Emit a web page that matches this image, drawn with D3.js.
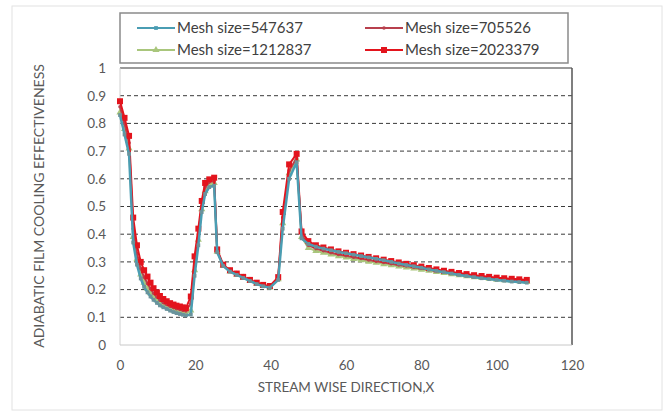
<!DOCTYPE html>
<html>
<head>
<meta charset="utf-8">
<script src="https://cdn.jsdelivr.net/npm/d3@7"></script>
<style>
  body { margin: 0; background: #fff; }
  svg { font-family: Lato, "Open Sans", sans-serif; }
</style>
</head>
<body>
<svg id="chart" width="669" height="418"></svg>
<script>
// stream wise positions shared by all meshes
var xs = [0, 1.2, 2.4, 3.5, 4.5, 5.5, 6.4, 7.3, 8.1, 8.9,
          9.8, 10.6, 11.5, 12.4, 13.3, 14.2, 15.0, 15.9, 16.7, 17.5,
          18.8, 19.8, 20.8, 21.7, 22.6, 23.7, 25.0, 25.8, 27.4, 29.2,
          31.0, 32.7, 34.5, 36.3, 38.0, 39.8, 42.0, 43.2, 44.9, 46.9,
          48.2, 50, 52, 54, 56, 58, 60, 62, 64, 66,
          68, 70, 72, 74, 76, 78, 80, 82, 84, 86,
          88, 90, 92, 94, 96, 98, 100, 102, 104, 106, 108];

var mesh547637 = [0.83, 0.76, 0.69, 0.37, 0.29, 0.24, 0.21, 0.19, 0.175, 0.163,
                  0.152, 0.143, 0.136, 0.13, 0.124, 0.119, 0.115, 0.112, 0.109, 0.107,
                  0.11, 0.25, 0.36, 0.48, 0.545, 0.57, 0.575, 0.335, 0.285, 0.265,
                  0.253, 0.242, 0.231, 0.22, 0.212, 0.207, 0.235, 0.42, 0.6, 0.66,
                  0.385, 0.365, 0.355, 0.348, 0.342, 0.336, 0.331, 0.326, 0.321, 0.316,
                  0.311, 0.306, 0.3, 0.294, 0.289, 0.284, 0.279, 0.273, 0.268, 0.263,
                  0.258, 0.253, 0.249, 0.245, 0.241, 0.238, 0.235, 0.232, 0.229, 0.227, 0.225];

var mesh705526 = [0.86, 0.8, 0.73, 0.42, 0.33, 0.275, 0.245, 0.222, 0.203, 0.187,
                  0.173, 0.162, 0.153, 0.146, 0.14, 0.135, 0.131, 0.128, 0.125, 0.123,
                  0.15, 0.3, 0.4, 0.5, 0.57, 0.588, 0.592, 0.34, 0.287, 0.267,
                  0.255, 0.244, 0.233, 0.222, 0.214, 0.21, 0.24, 0.46, 0.63, 0.675,
                  0.4, 0.36, 0.348, 0.34, 0.333, 0.327, 0.322, 0.317, 0.312, 0.307,
                  0.302, 0.298, 0.293, 0.289, 0.285, 0.281, 0.277, 0.272, 0.268, 0.264,
                  0.26, 0.256, 0.252, 0.249, 0.246, 0.243, 0.24, 0.238, 0.236, 0.234, 0.232];

var mesh1212837 = [0.84, 0.78, 0.71, 0.39, 0.31, 0.255, 0.225, 0.203, 0.187, 0.174,
                   0.162, 0.152, 0.144, 0.137, 0.131, 0.126, 0.122, 0.118, 0.115, 0.113,
                   0.125, 0.27, 0.38, 0.49, 0.555, 0.58, 0.585, 0.337, 0.286, 0.266,
                   0.254, 0.243, 0.232, 0.221, 0.213, 0.208, 0.238, 0.44, 0.62, 0.67,
                   0.39, 0.35, 0.34, 0.333, 0.327, 0.321, 0.316, 0.311, 0.306, 0.301,
                   0.297, 0.292, 0.288, 0.284, 0.28, 0.276, 0.272, 0.268, 0.264, 0.26,
                   0.256, 0.252, 0.248, 0.245, 0.242, 0.239, 0.236, 0.234, 0.232, 0.23, 0.228];

var mesh2023379 = [0.88, 0.82, 0.755, 0.46, 0.36, 0.3, 0.27, 0.247, 0.225, 0.205,
                   0.19, 0.177, 0.166, 0.158, 0.151, 0.146, 0.142, 0.139, 0.136, 0.133,
                   0.175, 0.32, 0.42, 0.52, 0.585, 0.598, 0.604, 0.345, 0.29, 0.27,
                   0.258, 0.246, 0.235, 0.225, 0.217, 0.213, 0.245, 0.48, 0.652, 0.69,
                   0.41, 0.375, 0.36, 0.352, 0.345, 0.338, 0.333, 0.328, 0.323, 0.318,
                   0.313, 0.308, 0.303, 0.298, 0.293, 0.288, 0.283, 0.278, 0.273, 0.268,
                   0.264, 0.26, 0.256, 0.252, 0.249, 0.246, 0.243, 0.241, 0.239, 0.237, 0.235];

var yTicks = [0, 0.1, 0.2, 0.3, 0.4, 0.5, 0.6, 0.7, 0.8, 0.9, 1];
var xTicks = [0, 20, 40, 60, 80, 100, 120];

var series = [
  { name: 'Mesh size=1212837', values: mesh1212837, color: '#a9c67c', marker: 'triangle', size: 22, width: 2 },
  { name: 'Mesh size=705526',  values: mesh705526,  color: '#b8404d', marker: 'circle',   size: 10, width: 2 },
  { name: 'Mesh size=2023379', values: mesh2023379, color: '#e3141d', marker: 'square',   size: 36, width: 2 },
  { name: 'Mesh size=547637',  values: mesh547637,  color: '#4a9db3', marker: 'square',   size: 14, width: 2.5 }
];
var markerTypes = { triangle: d3.symbolTriangle, circle: d3.symbolCircle, square: d3.symbolSquare };

var svg = d3.select('#chart');

// outer chart frame
svg.append('rect')
   .attr('x', 12).attr('y', 6).attr('width', 650).attr('height', 404)
   .attr('fill', '#fff').attr('stroke', '#e2e2e2');

var x = d3.scaleLinear().domain([0, 120]).range([120, 572]);
var y = d3.scaleLinear().domain([0, 1]).range([345, 68]);

// dashed grid
svg.append('g')
   .selectAll('line')
   .data(yTicks.filter(function(d) { return d > 0 && d < 1; }))
   .join('line')
     .attr('x1', x(0)).attr('x2', x(120))
     .attr('y1', function(d) { return y(d); })
     .attr('y2', function(d) { return y(d); })
     .attr('stroke', '#3a3a3a')
     .attr('stroke-width', 1)
     .attr('stroke-dasharray', '4,3');

// plot frame
svg.append('line').attr('x1', x(0)).attr('x2', x(120)).attr('y1', y(1)).attr('y2', y(1))
   .attr('stroke', '#9a9a9a').attr('stroke-width', 2);
svg.append('line').attr('x1', x(120)).attr('x2', x(120)).attr('y1', y(1)).attr('y2', y(0))
   .attr('stroke', '#555').attr('stroke-width', 1.5);
svg.append('line').attr('x1', x(0)).attr('x2', x(0)).attr('y1', y(1)).attr('y2', y(0))
   .attr('stroke', '#d0d0d0');
svg.append('line').attr('x1', x(0)).attr('x2', x(120)).attr('y1', y(0)).attr('y2', y(0))
   .attr('stroke', '#c8c8c8');

// axes
var yAxis = d3.axisLeft(y).tickValues(yTicks).tickSize(0).tickPadding(14)
              .tickFormat(function(d) { return d3.format('')(d); });
svg.append('g').attr('transform', 'translate(' + x(0) + ',0)')
   .call(yAxis)
   .call(function(g) { g.select('.domain').remove(); })
   .selectAll('text').attr('font-size', 13.5).attr('fill', '#595959')
   .attr('font-family', 'Lato, sans-serif');

var xAxis = d3.axisBottom(x).tickValues(xTicks).tickSize(0).tickPadding(15);
svg.append('g').attr('transform', 'translate(0,' + y(0) + ')')
   .call(xAxis)
   .call(function(g) { g.select('.domain').remove(); })
   .selectAll('text').attr('font-size', 13.5).attr('fill', '#595959')
   .attr('font-family', 'Lato, sans-serif');

// lines and markers
var line = d3.line()
             .x(function(d, i) { return x(xs[i]); })
             .y(function(d) { return y(d); });

series.forEach(function(s) {
  var g = svg.append('g');
  g.append('path')
   .datum(s.values)
   .attr('d', line)
   .attr('fill', 'none')
   .attr('stroke', s.color)
   .attr('stroke-width', s.width);
  g.selectAll('path.mk')
   .data(s.values)
   .join('path')
     .attr('class', 'mk')
     .attr('transform', function(d, i) { return 'translate(' + x(xs[i]) + ',' + y(d) + ')'; })
     .attr('d', d3.symbol().type(markerTypes[s.marker]).size(s.size))
     .attr('fill', s.name === 'Mesh size=547637' ? '#6a939c' : s.color);
});

// axis titles
svg.append('text')
   .attr('x', 346).attr('y', 392)
   .attr('text-anchor', 'middle')
   .attr('font-size', 13.5).attr('fill', '#595959')
   .text('STREAM WISE DIRECTION,X');

svg.append('text')
   .attr('transform', 'translate(44,206) rotate(-90)')
   .attr('text-anchor', 'middle')
   .attr('font-size', 14).attr('fill', '#595959')
   .text('ADIABATIC FILM COOLING EFFECTIVENESS');

// legend
var legend = svg.append('g');
legend.append('rect')
      .attr('x', 120).attr('y', 13).attr('width', 448).attr('height', 50)
      .attr('fill', '#fff').attr('stroke', '#8a8a8a').attr('stroke-width', 1.5);

var legendItems = [
  { s: series[3], lx: 137, ly: 28 },
  { s: series[1], lx: 365, ly: 28 },
  { s: series[0], lx: 137, ly: 50 },
  { s: series[2], lx: 365, ly: 50 }
];
legendItems.forEach(function(it) {
  legend.append('line')
        .attr('x1', it.lx).attr('x2', it.lx + 38)
        .attr('y1', it.ly).attr('y2', it.ly)
        .attr('stroke', it.s.color).attr('stroke-width', 2);
  legend.append('path')
        .attr('transform', 'translate(' + (it.lx + 19) + ',' + it.ly + ')')
        .attr('d', d3.symbol().type(markerTypes[it.s.marker]).size(it.s.size))
        .attr('fill', it.s.color);
  legend.append('text')
        .attr('x', it.lx + 40).attr('y', it.ly + 5)
        .attr('font-size', 15).attr('fill', '#404040')
        .text(it.s.name);
});
</script>
</body>
</html>
